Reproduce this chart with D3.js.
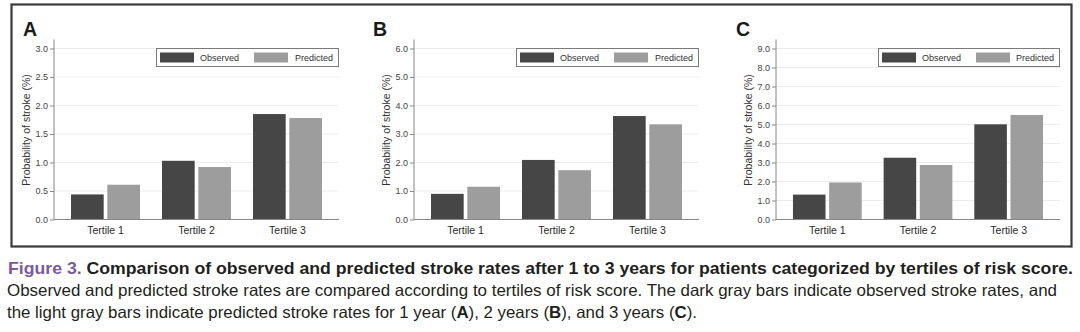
<!DOCTYPE html>
<html>
<head>
<meta charset="utf-8">
<script src="https://cdn.jsdelivr.net/npm/d3@7"></script>
<style>
  html, body { margin: 0; padding: 0; background: #fff; }
  svg { display: block; font-family: "Liberation Sans", Arial, Helvetica, sans-serif; }
</style>
</head>
<body>
<svg id="chart" width="1080" height="332"></svg>
<script>
// ---------------- data ----------------
const categories = ["Tertile 1", "Tertile 2", "Tertile 3"];
const seriesNames = ["Observed", "Predicted"];
const panelLetters = ["A", "B", "C"];
const yMaxes = [3.0, 6.0, 9.0];
const yTicksA = [0, 0.5, 1.0, 1.5, 2.0, 2.5, 3.0];
const yTicksB = [0, 1, 2, 3, 4, 5, 6];
const yTicksC = [0, 1, 2, 3, 4, 5, 6, 7, 8, 9];
const observedA = [0.44, 1.03, 1.85];
const predictedA = [0.61, 0.92, 1.78];
const observedB = [0.90, 2.09, 3.63];
const predictedB = [1.15, 1.73, 3.34];
const observedC = [1.31, 3.25, 5.01];
const predictedC = [1.95, 2.87, 5.50];
const yLabel = "Probability of stroke (%)";

const panels = [
  { letter: panelLetters[0], yMax: yMaxes[0], ticks: yTicksA, obs: observedA, pred: predictedA },
  { letter: panelLetters[1], yMax: yMaxes[1], ticks: yTicksB, obs: observedB, pred: predictedB },
  { letter: panelLetters[2], yMax: yMaxes[2], ticks: yTicksC, obs: observedC, pred: predictedC }
];

// ---------------- layout ----------------
const axisX = [54, 414, 776];
const plotR = [339, 699, 1060];
const letterX = [23, 373, 736];
const yBottom = 219.5, yTop = 48.5;
const colors = { Observed: "#464646", Predicted: "#9d9d9d" };

const svg = d3.select("#chart");

// outer frame
svg.append("rect")
  .attr("x", 11.5).attr("y", 4.5).attr("width", 1060).attr("height", 242)
  .attr("fill", "none").attr("stroke", "#3a3a3a").attr("stroke-width", 2.2);

panels.forEach((p, i) => {
  const g = svg.append("g");
  const x0 = d3.scaleBand().domain(categories).range([axisX[i], plotR[i]])
    .paddingInner(0.242).paddingOuter(0.187);
  const x1 = d3.scaleBand().domain(seriesNames).range([0, x0.bandwidth()]).paddingInner(0.1);
  const y = d3.scaleLinear().domain([0, p.yMax]).range([yBottom, yTop]);

  // gridlines
  g.append("g").selectAll("line").data(p.ticks.filter(t => t > 0)).join("line")
    .attr("x1", axisX[i]).attr("x2", plotR[i])
    .attr("y1", d => y(d)).attr("y2", d => y(d))
    .attr("stroke", "#ececec").attr("stroke-width", 1);

  // bars
  const rows = categories.map((c, k) => ({ cat: c, vals: [
    { s: "Observed", v: p.obs[k] }, { s: "Predicted", v: p.pred[k] }] }));
  g.append("g").selectAll("g").data(rows).join("g")
    .attr("transform", d => `translate(${x0(d.cat)},0)`)
    .selectAll("rect").data(d => d.vals).join("rect")
    .attr("x", d => x1(d.s)).attr("width", x1.bandwidth())
    .attr("y", d => y(d.v)).attr("height", d => y(0) - y(d.v))
    .attr("fill", d => colors[d.s]);

  // y axis
  const yAxis = d3.axisLeft(y).tickValues(p.ticks).tickFormat(d3.format(".1f"))
    .tickSize(4).tickPadding(2);
  const ya = g.append("g").attr("transform", `translate(${axisX[i]},0)`).call(yAxis);
  ya.select(".domain").remove();
  ya.selectAll(".tick line").attr("stroke", "#888");
  ya.selectAll(".tick text").attr("fill", "#444").attr("font-size", 9)
    .attr("font-family", "Liberation Sans, Arial, sans-serif");
  g.append("line").attr("x1", axisX[i]).attr("x2", axisX[i])
    .attr("y1", yBottom).attr("y2", yTop - 9).attr("stroke", "#888").attr("stroke-width", 1);

  // x axis
  const xAxis = d3.axisBottom(x0).tickSize(0).tickPadding(7);
  const xa = g.append("g").attr("transform", `translate(0,${yBottom})`).call(xAxis);
  xa.select(".domain").attr("stroke", "#888").attr("d", `M${axisX[i]},0H${plotR[i]}`);
  xa.selectAll(".tick text").attr("fill", "#2a2a2a").attr("font-size", 10.5)
    .attr("font-family", "Liberation Sans, Arial, sans-serif");

  // y label
  g.append("text")
    .attr("transform", `translate(${axisX[i] - 24},${(yBottom + yTop) / 2 - 4}) rotate(-90)`)
    .attr("text-anchor", "middle").attr("font-size", 10.5).attr("fill", "#333")
    .text(yLabel);

  // panel letter
  g.append("text").attr("x", letterX[i]).attr("y", 36)
    .attr("font-size", 19.5).attr("font-weight", "bold").attr("fill", "#1a1a1a")
    .text(p.letter);

  // legend
  const lx = axisX[i] + 102, ly = 48;
  const lw = plotR[i] - lx, lh = 18;
  const lg = g.append("g");
  lg.append("rect").attr("x", lx + 0.5).attr("y", ly + 0.5).attr("width", lw - 1).attr("height", lh)
    .attr("fill", "#fff").attr("stroke", "#7a7a7a").attr("stroke-width", 1);
  lg.append("rect").attr("x", lx + 4).attr("y", ly + 4.5).attr("width", 34).attr("height", 10)
    .attr("fill", colors.Observed);
  lg.append("text").attr("x", lx + 44).attr("y", ly + 12.5).attr("font-size", 9)
    .attr("fill", "#333").text(seriesNames[0]);
  lg.append("rect").attr("x", lx + 98).attr("y", ly + 4.5).attr("width", 34).attr("height", 10)
    .attr("fill", colors.Predicted);
  lg.append("text").attr("x", lx + lw - 6).attr("y", ly + 12.5).attr("font-size", 9)
    .attr("text-anchor", "end").attr("fill", "#333").text(seriesNames[1]);
});

// ---------------- caption ----------------
const cap = svg.append("g").attr("font-family", "Liberation Sans, Arial, sans-serif");
const l1 = cap.append("text").attr("x", 8).attr("y", 274).attr("font-size", 16.5)
  .attr("textLength", 1065).attr("lengthAdjust", "spacingAndGlyphs");
l1.append("tspan").attr("fill", "#7b5a9c").attr("font-weight", "bold").text("Figure 3. ");
l1.append("tspan").attr("fill", "#231f20").attr("font-weight", "bold")
  .text("Comparison of observed and predicted stroke rates after 1 to 3 years for patients categorized by tertiles of risk score.");

cap.append("text").attr("x", 7).attr("y", 296).attr("font-size", 16.5).attr("fill", "#231f20")
  .attr("textLength", 1050).attr("lengthAdjust", "spacingAndGlyphs")
  .text("Observed and predicted stroke rates are compared according to tertiles of risk score. The dark gray bars indicate observed stroke rates, and");

const l3 = cap.append("text").attr("x", 7).attr("y", 318).attr("font-size", 16.5).attr("fill", "#231f20")
  .attr("textLength", 690).attr("lengthAdjust", "spacingAndGlyphs");
l3.append("tspan").text("the light gray bars indicate predicted stroke rates for 1 year (");
l3.append("tspan").attr("font-weight", "bold").text("A");
l3.append("tspan").text("), 2 years (");
l3.append("tspan").attr("font-weight", "bold").text("B");
l3.append("tspan").text("), and 3 years (");
l3.append("tspan").attr("font-weight", "bold").text("C");
l3.append("tspan").text(").");
</script>
</body>
</html>
